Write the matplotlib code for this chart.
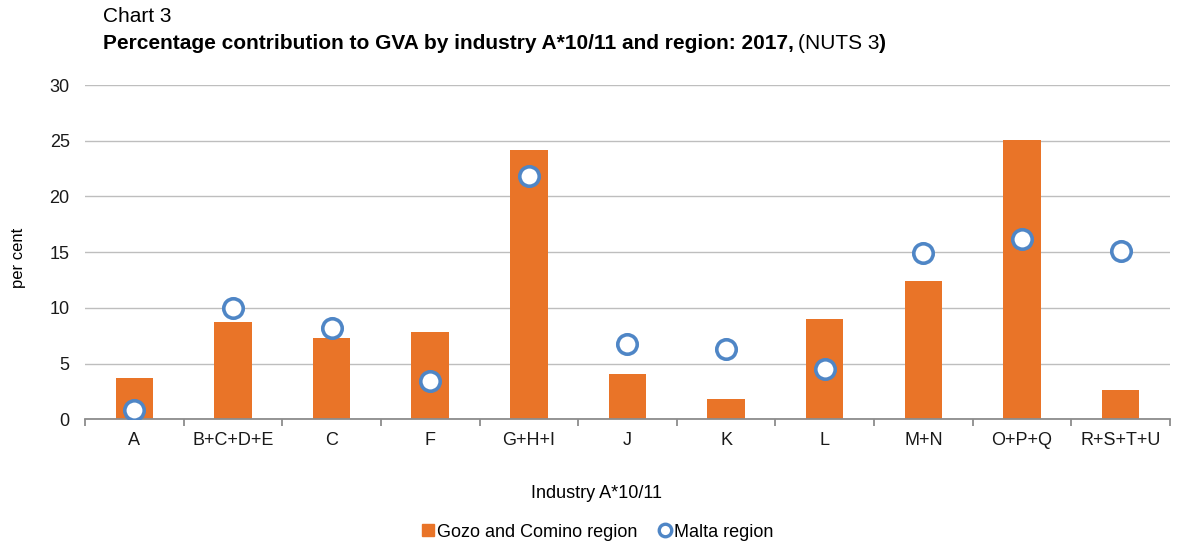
import numpy as np
import matplotlib
matplotlib.use("Agg")
from matplotlib import pyplot as plt
from matplotlib.lines import Line2D

plt.rcParams['font.family'] = ['Liberation Sans', 'DejaVu Sans']

industries = ["A", "B+C+D+E", "C", "F", "G+H+I", "J", "K", "L", "M+N", "O+P+Q", "R+S+T+U"]
gozo = [3.7, 8.7, 7.3, 7.8, 24.2, 4.1, 1.8, 9.0, 12.4, 25.1, 2.6]
malta = [0.8, 10.0, 8.2, 3.4, 21.8, 6.8, 6.3, 4.5, 14.9, 16.2, 15.1]
yticks = [0, 5, 10, 15, 20, 25, 30]

orange = "#E97428"
blue = "#4F86C6"

fig = plt.figure(figsize=(11.77, 5.42), dpi=100)
ax = fig.add_axes([0.0722, 0.2264, 0.9218, 0.6166])

x = np.arange(len(industries))
ax.bar(x, gozo, width=0.38, color=orange, zorder=2)
ax.plot(x, malta, linestyle="none", marker="o", markersize=14, markerfacecolor="white",
        markeredgecolor=blue, markeredgewidth=2.6, zorder=3)

ax.set_xlim(-0.5, len(industries) - 0.5)
ax.set_ylim(0, 30)
ax.set_yticks(yticks)
ax.yaxis.grid(True, color="#BEBEBE", linewidth=1.0)
ax.set_axisbelow(True)
for s in ["top", "right", "left"]:
    ax.spines[s].set_visible(False)
ax.spines["bottom"].set_color("#8C8C8C")
ax.spines["bottom"].set_linewidth(1.3)
ax.tick_params(axis="y", length=0, labelsize=13, pad=11, colors="#1a1a1a")
ax.set_xticks(x)
ax.set_xticklabels(industries, fontsize=13, color="#1a1a1a")
ax.tick_params(axis="x", length=0, pad=9)
# category separator ticks
ax.set_xticks(np.arange(-0.5, len(industries), 1), minor=True)
ax.tick_params(axis="x", which="minor", length=5, color="#8C8C8C", width=1.3, direction="out")

fig.text(18 / 1177, 0.524, "per cent", rotation=90, ha="center", va="center", fontsize=12)
fig.text(0.5064, 0.0886, "Industry A*10/11", ha="center", va="center", fontsize=13)

# title
fig.text(0.0875, 0.970, "Chart 3", fontsize=15, va="center")
t1 = fig.text(0.0875, 0.920, "Percentage contribution to GVA by industry A*10/11 and region: 2017,",
              fontsize=15, fontweight="bold", va="center")
fig.canvas.draw()
r = fig.canvas.get_renderer()
bb = t1.get_window_extent(r)
t2 = fig.text((bb.x1 + 4) / fig.bbox.width, 0.920, "(NUTS 3", fontsize=15, va="center")
bb2 = t2.get_window_extent(r)
fig.text(bb2.x1 / fig.bbox.width, 0.920, ")", fontsize=15, fontweight="bold", va="center")

handles = [
    Line2D([], [], linestyle="none", marker="s", markersize=8, color=orange),
    Line2D([], [], linestyle="none", marker="o", markersize=9, markerfacecolor="white",
           markeredgecolor=blue, markeredgewidth=2.4),
]
fig.legend(handles, ["Gozo and Comino region", "Malta region"], loc="center",
           bbox_to_anchor=(0.5064, 0.018), ncol=2, frameon=False, fontsize=13,
           handletextpad=0.0, columnspacing=1.0, handlelength=1.0)

fig.savefig("out.png", dpi=100)
